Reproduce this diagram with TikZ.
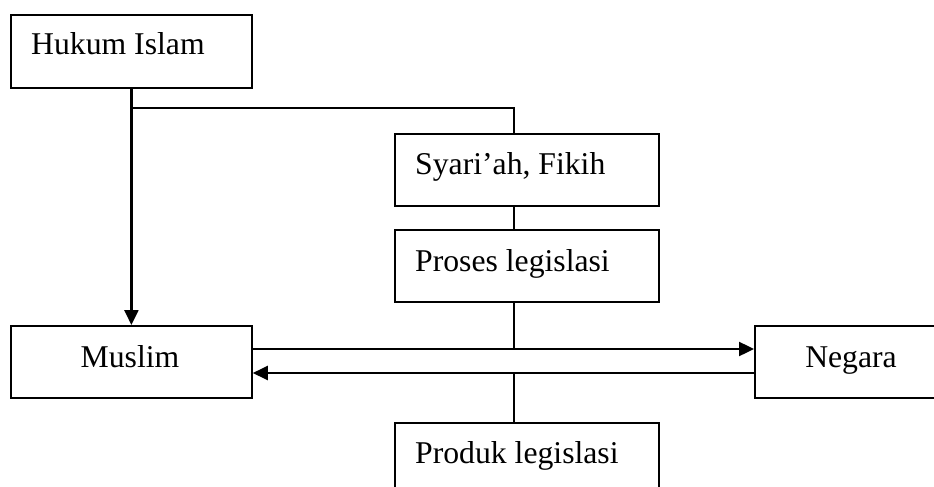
\documentclass[tikz,border=0pt]{standalone}
\usepackage{fontspec}
\setmainfont{Liberation Serif}
\usetikzlibrary{arrows.meta}

\begin{document}
\begin{tikzpicture}[x=1pt,y=-1pt,
  box/.style={draw, line width=1.8pt, rectangle, inner sep=0pt, anchor=north west},
  txt/.style={inner sep=0pt, font=\fontsize{31.7}{38}\selectfont},
  link/.style={line width=1.6pt},
  flow/.style={line width=2.4pt, -{Triangle[length=15pt,width=14pt]}}]
  \useasboundingbox (0,0) rectangle (934,487);
  \clip (0,0) rectangle (934,487);

  % boxes
  \node[box, minimum width=241, minimum height=73] (hukum) at (10,14) {};
  \node[box, minimum width=264, minimum height=72] (syariah) at (394,133) {};
  \node[box, minimum width=264, minimum height=72] (proses) at (394,229) {};
  \node[box, minimum width=241, minimum height=72] (muslim) at (10,325) {};
  \node[box, minimum width=190, minimum height=72] (negara) at (754,325) {};
  \node[box, minimum width=264, minimum height=90] (produk) at (394,422) {};

  % labels
  \node[txt, anchor=base west] (hukumt) at (31,55) {Hukum Islam};
  \node[txt, anchor=base west] (syariaht) at (415,174) {Syari’ah, Fikih};
  \node[txt, anchor=base west] (prosest) at (415,271) {Proses legislasi};
  \node[txt, anchor=base] (muslimt) at (130,367) {Muslim};
  \node[txt, anchor=base] (negarat) at (851,367) {Negara};
  \node[txt, anchor=base west] (produkt) at (415,463) {Produk legislasi};

  % helper coordinates
  \coordinate (branch) at (130.5,108);
  \coordinate (spine) at (514,0);
  \coordinate (up) at (0,349);
  \coordinate (lo) at (0,373);

  % connectors
  \draw[flow] (hukum.south) -- (muslim.north);
  \draw[link] (branch) -| (spine |- syariah.north);
  \draw[link] (spine |- syariah.south) -- (spine |- proses.north);
  \draw[link] (spine |- proses.south) -- (spine |- up);
  \draw[link] (spine |- lo) -- (spine |- produk.north);
  \draw[flow] (muslim.east |- up) -- (negara.west |- up);
  \draw[flow] (negara.west |- lo) -- (muslim.east |- lo);
\end{tikzpicture}
\end{document}
